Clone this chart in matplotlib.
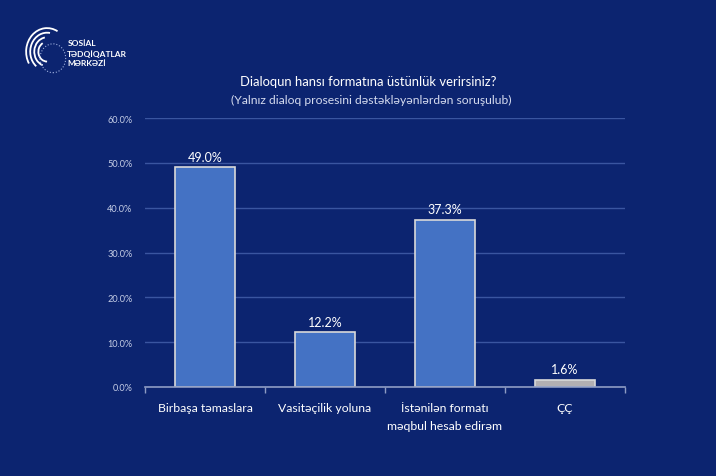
import matplotlib.pyplot as plt
import numpy as np
from matplotlib.patches import Arc

plt.rcParams['font.family'] = ['Lato', 'DejaVu Sans']

categories = ['Birbaşa təmaslara', 'Vasitəçilik yoluna', 'İstənilən formatı\nməqbul hesab edirəm', 'ÇÇ']
values = [49.0, 12.2, 37.3, 1.6]
colors = ['#4472c4', '#4472c4', '#4472c4', '#b3b0b3']
yticks = [0, 10, 20, 30, 40, 50, 60]

bg = '#0c2470'

fig = plt.figure(figsize=(7.16, 4.77), dpi=100)
fig.patch.set_facecolor(bg)
ax = fig.add_axes([0.2025, 0.1866, 0.6704, 0.5639])
ax.set_facecolor(bg)

x = np.arange(len(categories))
bars = ax.bar(x, values, width=0.5, color=colors, edgecolor='#d9d9d9', linewidth=1.2, zorder=3)
for xi, v in zip(x, values):
    ax.text(xi, v + 1.0, f'{v:.1f}%', ha='center', va='bottom', color='white', fontsize=9)

ax.set_ylim(0, 60)
ax.set_xlim(-0.5, len(categories) - 0.5)
ax.set_yticks(yticks)
ax.set_yticklabels([f'{t:.1f}%' for t in yticks], color='#c5cde6', fontsize=6.6)
ax.set_xticks(x)
ax.set_xticklabels(categories, color='white', fontsize=8.8, linespacing=1.75)
ax.set_xticks(np.arange(-0.5, len(categories), 1.0), minor=True)
ax.tick_params(axis='x', which='major', length=0, pad=11)
ax.tick_params(axis='x', which='minor', length=4, color='#8e9cc4', width=1)
ax.tick_params(axis='y', length=0, pad=9)
ax.grid(axis='y', color='#3a55a0', linewidth=1, zorder=0)
for s in ['top', 'right', 'left']:
    ax.spines[s].set_visible(False)
ax.spines['bottom'].set_color('#8e9cc4')
ax.spines['bottom'].set_linewidth(1.2)
ax.spines['bottom'].set_zorder(4)

fig.text(0.515, 0.829, 'Dialoqun hansı formatına üstünlük verirsiniz?', ha='center', va='center',
         color='white', fontsize=9.4)
fig.text(0.518, 0.789, '(Yalnız dialoq prosesini dəstəkləyənlərdən soruşulub)', ha='center', va='center',
         color='#d5dbef', fontsize=8.7)

# logo
fig.text(0.094, 0.888, 'SOSİAL\nTƏDQİQATLAR\nMƏRKƏZİ', ha='left', va='center', color='white',
         fontsize=6, fontweight='bold', linespacing=1.45)
lax = fig.add_axes([0.03, 0.84, 0.065, 0.11])
lax.set_xlim(-1, 1)
lax.set_ylim(-1, 1)
lax.axis('off')
for r, a0 in zip([1.8, 1.45, 1.1, 0.75], [60, 80, 100, 120]):
    lax.add_patch(Arc((0.1, -0.1), r, r, theta1=a0, theta2=a0 + 150, color='white', lw=1.3))
lax.add_patch(plt.Circle((0.35, -0.35), 0.55, fill=False, color='#9fb0de', lw=0.8, ls=':'))

fig.savefig('out.png', dpi=100, facecolor=bg)
